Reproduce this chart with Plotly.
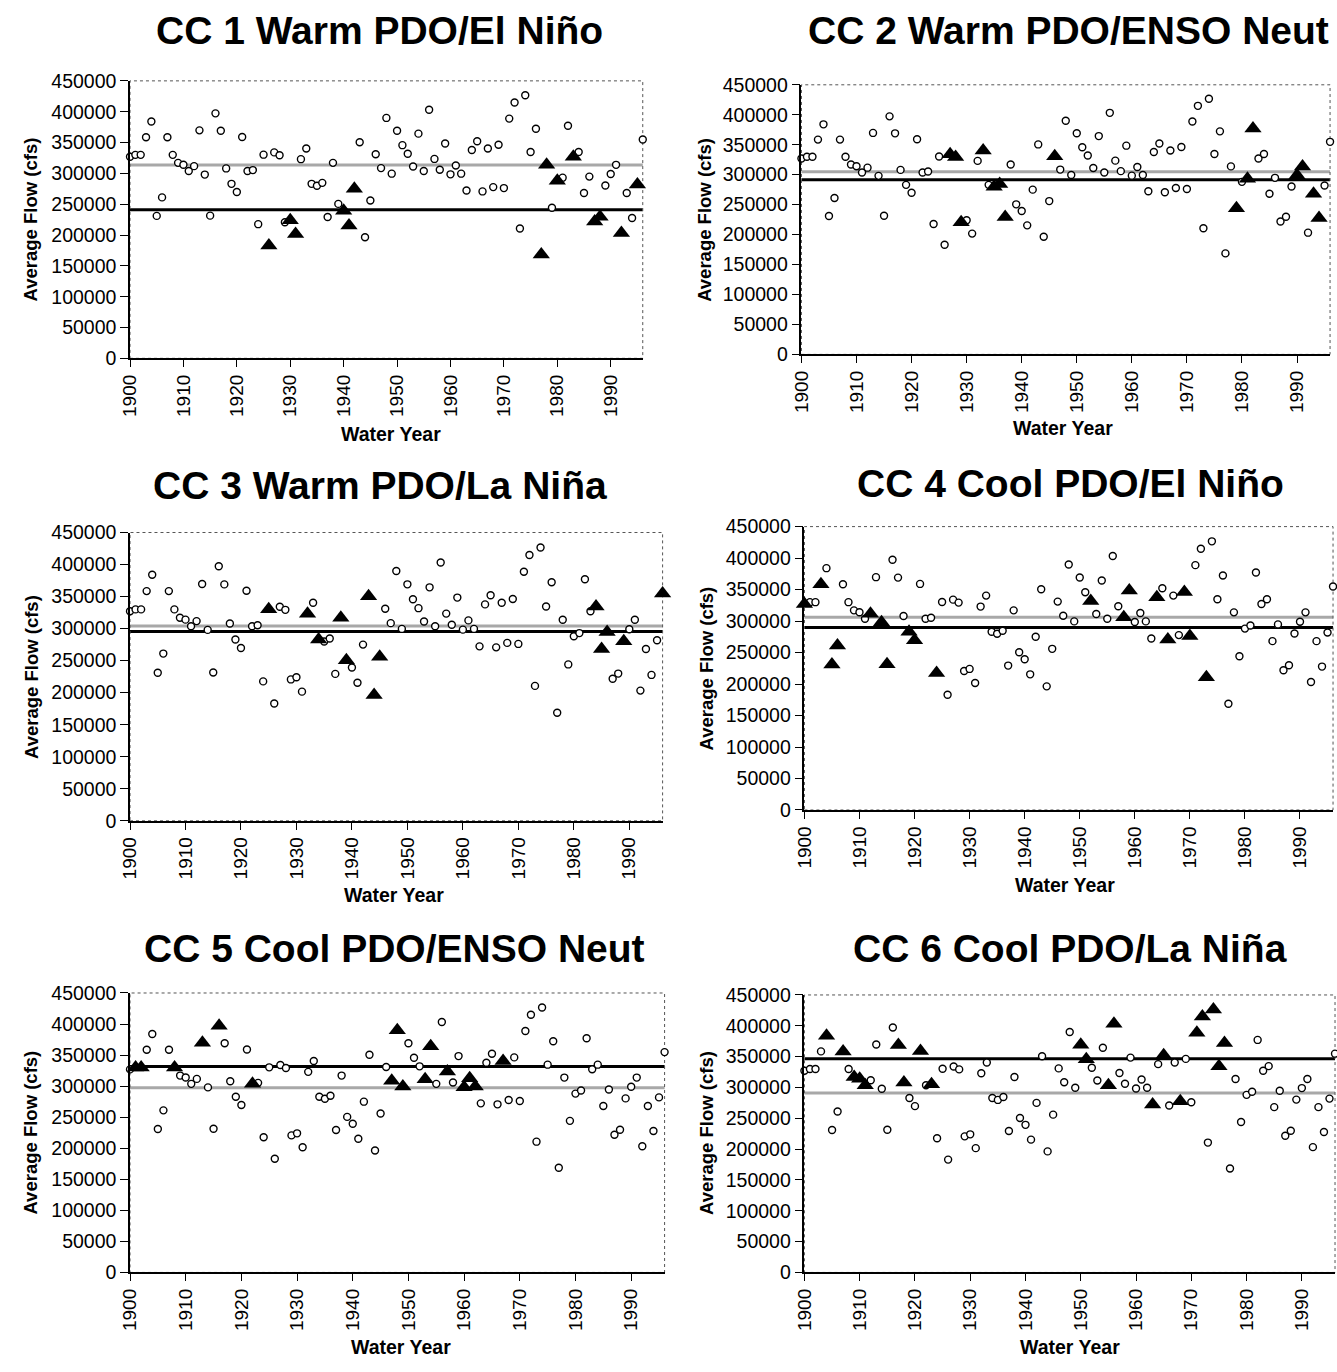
import plotly.graph_objects as go

# ---------------- data ----------------
years = list(range(1900, 1997))
flow = [327000, 330000, 330000, 358500, 384000, 231000, 261000, 358500, 330000, 317000,
        314000, 303700, 311700, 369700, 298000, 231400, 397300, 369000, 308000, 283000,
        269700, 359000, 303700, 305300, 217600, 330300, 183000, 334000, 329300, 220700,
        224000, 201600, 323000, 340400, 283000, 279800, 284600, 229300, 317000, 250500,
        239400, 215400, 275000, 350500, 196300, 255900, 330900, 308500, 389900, 299500,
        369100, 345700, 331900, 311200, 364400, 303700, 403200, 323400, 305900, 348400,
        298400, 312800, 299500, 272300, 337800, 352100, 270700, 340400, 277700, 346300,
        276100, 388800, 414900, 210600, 426600, 334600, 372300, 168600, 313800, 244100,
        288000, 293000, 377100, 327100, 334600, 268100, 294700, 221800, 229800, 280300,
        299000, 313800, 203200, 268100, 227700, 281900, 354800]

# climate class of each water year (1900..1996)
climate_class = [4, 5, 5, 4, 6, 4, 4, 6, 5, 6,
                 6, 6, 4, 5, 4, 4, 5, 6, 6, 4,
                 4, 6, 5, 6, 4, 3, 1, 2, 2, 2,
                 1, 1, 3, 2, 3, 2, 2, 2, 3, 3,
                 1, 1, 1, 3, 3, 3, 2, 5, 5, 5,
                 6, 6, 4, 5, 5, 6, 6, 5, 4, 4,
                 5, 5, 5, 6, 4, 6, 4, 5, 6, 4,
                 4, 6, 6, 4, 6, 6, 6, 1, 1, 2,
                 1, 2, 2, 1, 3, 3, 3, 1, 1, 3,
                 2, 2, 1, 2, 2, 1, 3]

titles = ["CC 1 Warm PDO/El Niño", "CC 2 Warm PDO/ENSO Neut", "CC 3 Warm PDO/La Niña",
          "CC 4 Cool PDO/El Niño", "CC 5 Cool PDO/ENSO Neut", "CC 6 Cool PDO/La Niña"]
x_ticks = list(range(1900, 2000, 10))
y_ticks = list(range(0, 450001, 50000))

# ---------------- layout geometry (pixels) ----------------
W, H = 1337, 1372
boxes = [  # x0, x1, ytop, ybot
    (120, 637, 71, 353),
    (797, 1330, 75, 349),
    (120, 657, 530, 823),
    (800, 1333, 524, 812),
    (120, 659, 998, 1282),
    (800, 1335, 1000, 1282),
]
title_pos = [(372, 20), (1066, 20), (372, 482), (1068, 480), (387, 953), (1068, 953)]
xtitle_pos = [(383, 430), (1061, 424), (386, 898), (1063, 888), (393, 1358), (1068, 1358)]
ytitle_pos = [(20, 212), (699, 212), (20, 677), (701, 668), (20, 1140), (701, 1140)]

FONT = "Liberation Sans, Arial, sans-serif"

fig = go.Figure()
shapes = []
annotations = []

for k in range(6):
    cc = k + 1
    ax = "" if k == 0 else str(k + 1)
    xref, yref = "x" + ax, "y" + ax
    x0, x1, yt, yb = boxes[k]

    sel_x = [y for y, c in zip(years, climate_class) if c == cc]
    sel_y = [f for f, c in zip(flow, climate_class) if c == cc]
    oth_x = [y for y, c in zip(years, climate_class) if c != cc]
    oth_y = [f for f, c in zip(flow, climate_class) if c != cc]
    mean_sel = sum(sel_y) / len(sel_y)
    mean_oth = sum(oth_y) / len(oth_y)

    fig.add_trace(go.Scatter(
        x=oth_x, y=oth_y, mode="markers", xaxis=xref, yaxis=yref, showlegend=False,
        marker=dict(symbol="circle", size=7, color="white", line=dict(color="black", width=1.4)),
        cliponaxis=False))
    fig.add_trace(go.Scatter(
        x=sel_x, y=sel_y, mode="markers", xaxis=xref, yaxis=yref, showlegend=False,
        marker=dict(symbol="triangle-up", size=15, color="black", line=dict(width=0)),
        cliponaxis=False))

    # mean lines
    shapes.append(dict(type="line", xref=xref + " domain", yref=yref, x0=0, x1=1,
                       y0=mean_oth, y1=mean_oth, line=dict(color="#a8a8a8", width=3), layer="below"))
    shapes.append(dict(type="line", xref=xref + " domain", yref=yref, x0=0, x1=1,
                       y0=mean_sel, y1=mean_sel, line=dict(color="black", width=3), layer="below"))
    # dotted border (top/right)
    shapes.append(dict(type="rect", xref=xref + " domain", yref=yref + " domain", x0=0, x1=1,
                       y0=0, y1=1, line=dict(color="#555555", width=1, dash="dot"), layer="below"))

    xa = dict(domain=[x0 / W, x1 / W], range=[1900, 1996], tickvals=x_ticks,
              ticktext=[str(t) for t in x_ticks], tickangle=-90, showgrid=False, zeroline=False,
              showline=True, linecolor="black", linewidth=1.5, ticks="outside", ticklen=7,
              tickcolor="black", tickfont=dict(family=FONT, size=19, color="black"),
              anchor=yref, fixedrange=True)
    ya = dict(domain=[1 - yb / H, 1 - yt / H], range=[0, 450000], tickvals=y_ticks,
              ticktext=[str(t) for t in y_ticks], showgrid=False, zeroline=False,
              showline=True, linecolor="black", linewidth=1.5, ticks="outside", ticklen=8,
              tickcolor="black", tickfont=dict(family=FONT, size=19.5, color="black"),
              anchor=xref, fixedrange=True)
    fig.update_layout(**{"xaxis" + ax: xa, "yaxis" + ax: ya})

    tx, ty = title_pos[k]
    annotations.append(dict(text="<b>" + titles[k] + "</b>", x=tx / W, y=1 - ty / H,
                            xref="paper", yref="paper", showarrow=False,
                            xanchor="center", yanchor="middle",
                            font=dict(family=FONT, size=39, color="black")))
    wx, wy = xtitle_pos[k]
    annotations.append(dict(text="<b>Water Year</b>", x=wx / W, y=1 - wy / H,
                            xref="paper", yref="paper", showarrow=False,
                            xanchor="center", yanchor="middle",
                            font=dict(family=FONT, size=19.5, color="black")))
    vx, vy = ytitle_pos[k]
    annotations.append(dict(text="<b>Average Flow (cfs)</b>", x=vx / W, y=1 - vy / H,
                            xref="paper", yref="paper", showarrow=False, textangle=-90,
                            xanchor="center", yanchor="middle",
                            font=dict(family=FONT, size=18.5, color="black")))

fig.update_layout(width=W, height=H, margin=dict(l=0, r=0, t=0, b=0),
                  paper_bgcolor="white", plot_bgcolor="white",
                  shapes=shapes, annotations=annotations, showlegend=False)

fig.write_html("out.html")
